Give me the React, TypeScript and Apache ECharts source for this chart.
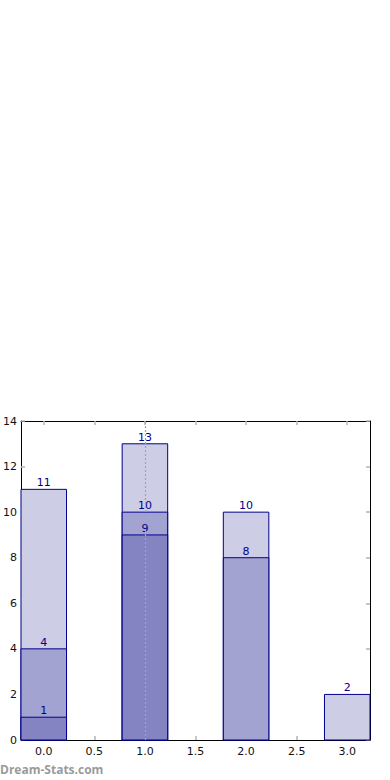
import React, { useEffect, useRef } from "react";
import * as echarts from "echarts";

const categories = [0, 1, 2, 3];
const outerValues = [11, 13, 10, 2];
const middleValues = [4, 10, 8, null];
const innerValues = [1, 9, null, null];
const xTickValues = [0, 0.5, 1, 1.5, 2, 2.5, 3];
const markerX = 1;

const BAR_HALF = 0.225;

function makeSeries(values: (number | null)[], fill: string, withMark: boolean) {
  const data = categories
    .map((c, i) => [c, values[i]])
    .filter((d) => d[1] !== null);
  const s: any = {
    type: "custom",
    xAxisIndex: 0,
    yAxisIndex: 0,
    data,
    renderItem: (params: any, api: any) => {
      const x = api.value(0);
      const v = api.value(1);
      const p0 = api.coord([x - BAR_HALF, v]);
      const p1 = api.coord([x + BAR_HALF, 0]);
      return {
        type: "group",
        children: [
          {
            type: "rect",
            shape: { x: p0[0], y: p0[1], width: p1[0] - p0[0], height: p1[1] - p0[1] },
            style: { fill, stroke: "#00008b", lineWidth: 1 },
          },
          {
            type: "text",
            z2: 10,
            style: {
              text: String(v),
              x: (p0[0] + p1[0]) / 2,
              y: p0[1] - 1,
              align: "center",
              verticalAlign: "bottom",
              fill: "#00008b",
              font: "11px 'DejaVu Sans'",
            },
          },
        ],
      };
    },
  };
  if (withMark) {
    s.markLine = {
      silent: true,
      symbol: "none",
      label: { show: false },
      lineStyle: { type: [2, 2], color: "#a0a0c0", width: 1.2 },
      data: [{ xAxis: markerX }],
    };
  }
  return s;
}

export default function App() {
  const ref = useRef<HTMLDivElement>(null);
  useEffect(() => {
    if (!ref.current) return;
    const chart = echarts.init(ref.current, null, { renderer: "svg" });
    const tickStyle = { show: true, inside: true, length: 4, lineStyle: { color: "#b4b4b4", width: 1.5 } };
    const lineStyle = { show: true, onZero: false, lineStyle: { color: "#000", width: 1 } };
    chart.setOption({
      animation: false,
      backgroundColor: "#fff",
      grid: { left: 19, right: 20, top: 421, bottom: 40, containLabel: false },
      xAxis: [
        {
          type: "value",
          position: "bottom",
          min: -BAR_HALF,
          max: 3 + BAR_HALF,
          axisLine: lineStyle,
          axisTick: { ...tickStyle, customValues: xTickValues },
          axisLabel: {
            customValues: xTickValues,
            formatter: (v: number) => v.toFixed(1),
            color: "#111",
            fontSize: 11,
            fontFamily: "DejaVu Sans",
            margin: 6,
          },
          splitLine: { show: false },
        },
        {
          type: "value",
          position: "top",
          min: -BAR_HALF,
          max: 3 + BAR_HALF,
          axisLine: lineStyle,
          axisTick: { ...tickStyle, customValues: xTickValues },
          axisLabel: { show: false },
          splitLine: { show: false },
        },
      ],
      yAxis: [
        {
          type: "value",
          position: "left",
          min: 0,
          max: 14,
          interval: 2,
          axisLine: lineStyle,
          axisTick: tickStyle,
          axisLabel: { color: "#111", fontSize: 11, fontFamily: "DejaVu Sans", margin: 4 },
          splitLine: { show: false },
        },
        {
          type: "value",
          position: "right",
          min: 0,
          max: 14,
          interval: 2,
          axisLine: lineStyle,
          axisTick: tickStyle,
          axisLabel: { show: false },
          splitLine: { show: false },
        },
      ],
      series: [
        makeSeries(outerValues, "#cdcde5", false),
        makeSeries(middleValues, "#a3a3d2", false),
        makeSeries(innerValues, "#8484c2", true),
      ],
      graphic: [
        {
          type: "text",
          left: 0,
          top: 763,
          style: {
            text: "Dream-Stats.com",
            fill: "#9a9a9a",
            font: "bold 12px 'Open Sans'",
          },
        },
      ],
    });
    return () => chart.dispose();
  }, []);
  return (
    <div
      ref={ref}
      style={{ position: "absolute", left: 0, top: 0, width: 390, height: 780 }}
    />
  );
}
